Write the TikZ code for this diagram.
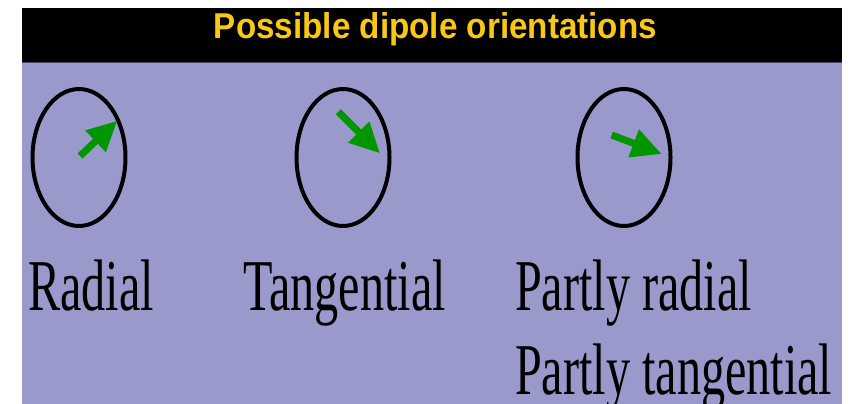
\documentclass[tikz,border=0pt]{standalone}
\usepackage{fontspec}
\setmainfont{Liberation Serif}
\newfontfamily\titlefont{Liberation Sans}
\usetikzlibrary{arrows.meta,shapes.geometric}
\definecolor{bgpurple}{RGB}{153,153,204}
\definecolor{titleyellow}{RGB}{250,200,20}
\definecolor{dipolegreen}{RGB}{0,150,0}
\definecolor{edgeline}{RGB}{70,70,105}
\newcommand\squeezed[1]{\scalebox{0.66}[1]{#1}}
\begin{document}
\begin{tikzpicture}[x=1pt,y=-1pt,
  ring/.style={draw=black, line width=4pt, ellipse, minimum width=93pt, minimum height=137pt, inner sep=0pt},
  dipole/.style={draw=dipolegreen, fill=dipolegreen, line width=7pt, -{Triangle[length=30pt,width=28pt]}},
  lbl/.style={anchor=base west, inner sep=0pt, text=black, font=\fontsize{73}{85}\selectfont},
  titletext/.style={anchor=base, inner sep=0pt, text=titleyellow}]
\useasboundingbox (0,0) rectangle (851,404);
\fill[white] (0,0) rectangle (851,404);
\fill[bgpurple] (22,8) rectangle (842,404);
\fill[black] (22,8) rectangle (842,62);
\draw[edgeline, line width=1pt] (22,62.5) -- (842,62.5);
\node[titletext] (title) at (435.5,39) {\resizebox{443pt}{26pt}{\titlefont\bfseries Possible dipole orientations}};
% rings
\node[ring] (c1) at (79,157.5) {};
\node[ring] (c2) at (343,157.5) {};
\node[ring] (c3) at (624,157.5) {};
% dipoles
\coordinate (t1) at (80,156);
\coordinate (h1) at (117.3,120.7);
\coordinate (t2) at (338.3,111.7);
\coordinate (h2) at (380,153.3);
\coordinate (t3) at (611.7,135);
\coordinate (h3) at (661.7,154);
\draw[dipole] (t1) -- (h1);
\draw[dipole] (t2) -- (h2);
\draw[dipole] (t3) -- (h3);
% labels
\node[lbl] (l1) at (28,310) {\squeezed{Radial}};
\node[lbl] (l2) at (243,310) {\squeezed{Tangential}};
\node[lbl] (l3) at (515,310) {\squeezed{Partly radial}};
\node[lbl] (l4) at (515,394) {\squeezed{Partly tangential}};
\end{tikzpicture}
\end{document}
